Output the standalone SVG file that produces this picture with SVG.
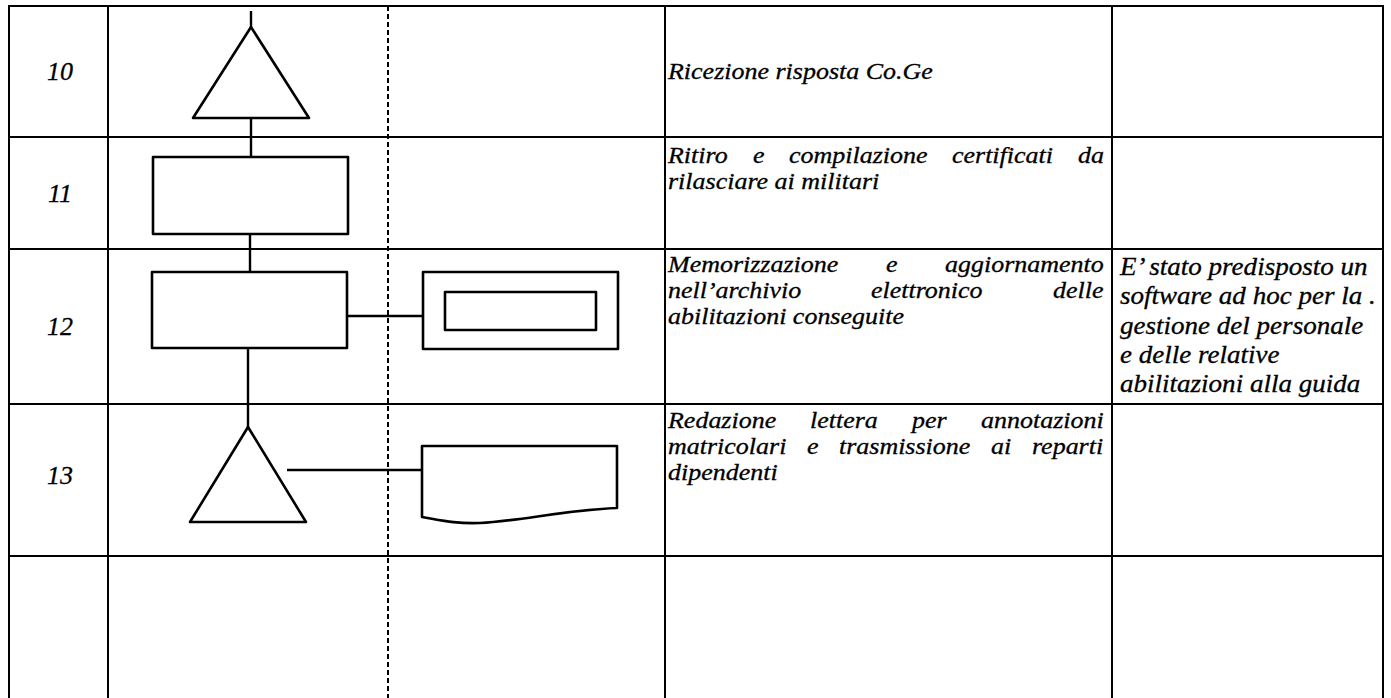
<svg xmlns="http://www.w3.org/2000/svg" width="1391" height="698" viewBox="0 0 1391 698">
<style>
.grid{stroke:#000;stroke-width:2;fill:none}
.dash{stroke:#000;stroke-width:2;stroke-dasharray:5 3;fill:none}
.shape{stroke:#000;stroke-width:2.6;fill:#fff;stroke-linejoin:round}
.conn{stroke:#000;stroke-width:2.4;fill:none}
.num{font-family:"Liberation Serif","Times New Roman",serif;font-style:italic;font-size:26px;fill:#000;stroke:#000;stroke-width:0.3;text-anchor:middle}
.t{font-family:"Liberation Serif","Times New Roman",serif;font-style:italic;font-size:23px;fill:#000;stroke:#000;stroke-width:0.3}
.n{font-family:"Liberation Serif","Times New Roman",serif;font-style:italic;font-size:26px;fill:#000;stroke:#000;stroke-width:0.3}
</style>
<rect width="1391" height="698" fill="#fff"/>
<g id="grid">
<path class="grid" d="M9,698 V6 H1383 V698 M108,6 V698 M665,6 V698 M1112,6 V698 M9,137 H1383 M9,249 H1383 M9,404 H1383 M9,556 H1383"/>
<path class="dash" d="M388,6 V698"/>
</g>
<g id="labels">
<text class="num" x="60" y="80">10</text>
<text class="num" x="60" y="202">11</text>
<text class="num" x="60" y="335">12</text>
<text class="num" x="60" y="484">13</text>
</g>
<g id="connectors">
<path class="conn" d="M251,11 V27 M251,118 V157 M250,234 V272 M347,316 H423 M248,348 V427 M287,470 H422"/>
</g>
<g id="node-10">
<path class="shape" d="M251,27 L309,118 L193,118 Z"/>
<g transform="translate(668,0) scale(1.13,1) translate(-668,0)">
<text class="t" x="668" y="79">Ricezione risposta Co.Ge</text>
</g>
</g>
<g id="node-11">
<rect class="shape" x="153" y="157" width="195" height="77"/>
<g transform="translate(668,0) scale(1.13,1) translate(-668,0)">
<text class="t"><tspan x="668" y="163">Ritiro</tspan><tspan x="743.2" y="163">e</tspan><tspan x="775.1" y="163">compilazione</tspan><tspan x="919.3" y="163">certificati</tspan><tspan x="1030.8" y="163">da</tspan><tspan x="668" y="189">rilasciare ai militari</tspan></text>
</g>
</g>
<g id="node-12">
<rect class="shape" x="152" y="272" width="195" height="76"/>
<g transform="translate(668,0) scale(1.13,1) translate(-668,0)">
<text class="t"><tspan x="668" y="272">Memorizzazione</tspan><tspan x="860.9" y="272">e</tspan><tspan x="913.1" y="272">aggiornamento</tspan><tspan x="668" y="298">nell’archivio</tspan><tspan x="847.6" y="298">elettronico</tspan><tspan x="1008.7" y="298">delle</tspan><tspan x="668" y="324">abilitazioni conseguite</tspan></text>
</g>
</g>
<g id="archive-12">
<rect class="shape" x="423" y="272" width="195" height="77"/>
<rect class="shape" x="445" y="292" width="151" height="38"/>
</g>
<g id="note-12">
<g transform="translate(1120,0) scale(1.04,1) translate(-1120,0)">
<text class="n"><tspan x="1120" y="275">E’ stato predisposto un</tspan><tspan x="1120" y="304">software ad hoc per la .</tspan><tspan x="1120" y="334">gestione del personale</tspan><tspan x="1120" y="363">e delle relative</tspan><tspan x="1120" y="392">abilitazioni alla guida</tspan></text>
</g>
</g>
<g id="node-13">
<path class="shape" d="M248,427 L306,522 L190,522 Z"/>
<g transform="translate(668,0) scale(1.13,1) translate(-668,0)">
<text class="t"><tspan x="668" y="428">Redazione</tspan><tspan x="793.7" y="428">lettera</tspan><tspan x="883.9" y="428">per</tspan><tspan x="945" y="428">annotazioni</tspan><tspan x="668" y="454">matricolari</tspan><tspan x="791" y="454">e</tspan><tspan x="819.3" y="454">trasmissione</tspan><tspan x="953.8" y="454">ai</tspan><tspan x="990.1" y="454">reparti</tspan><tspan x="668" y="480">dipendenti</tspan></text>
</g>
</g>
<g id="document-13">
<path class="shape" d="M422,446 H617 V508 C565,510 520,521 480,523 C455,524 440,520 422,517 Z"/>
</g>
</svg>
